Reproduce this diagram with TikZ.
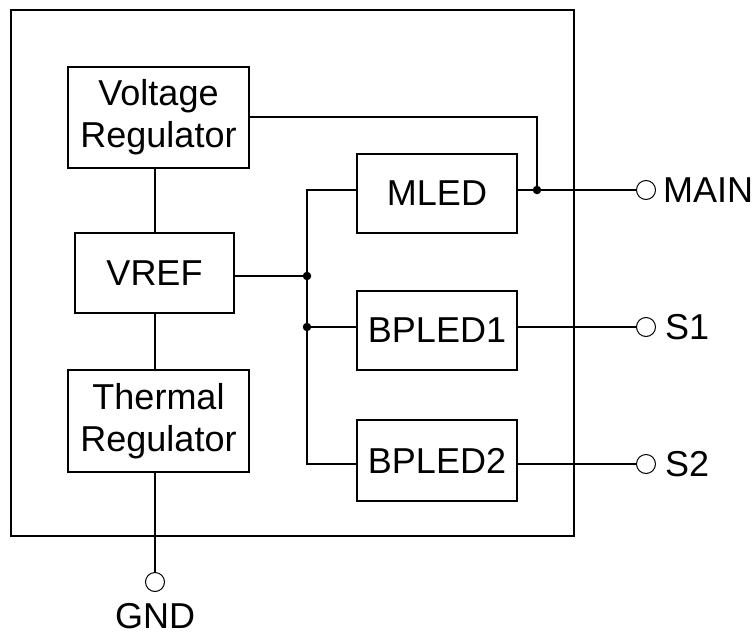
\documentclass[tikz,border=0pt]{standalone}
\usepackage{fontspec}
\setmainfont{Liberation Sans}
\begin{document}
\begin{tikzpicture}[x=1pt,y=-1pt,
  blk/.style={draw,line width=1.5pt,inner sep=0pt,align=center,font=\fontsize{36}{42}\selectfont},
  wire/.style={line width=1.3pt},
  jdot/.style={circle,fill,inner sep=0pt,minimum size=8.5pt},
  term/.style={circle,draw,line width=1pt,inner sep=0pt,minimum size=19pt,fill=white},
  lbl/.style={inner sep=0pt,font=\fontsize{36}{42}\selectfont}]
\useasboundingbox (0,0) rectangle (756,635);
\node[draw,line width=1.5pt,minimum width=563,minimum height=526,inner sep=0pt] (chip) at (292.5,273) {};
% blocks
\node[blk,minimum width=181,minimum height=101] (VR) at (158.5,117.5) {Voltage\\Regulator};
\node[blk,minimum width=159,minimum height=80] (VREF) at (154.5,273) {VREF};
\node[blk,minimum width=181,minimum height=102] (TR) at (158.5,421) {Thermal\\Regulator};
\node[blk,minimum width=160,minimum height=79] (MLED) at (437,193.5) {MLED};
\node[blk,minimum width=160,minimum height=79] (BP1) at (437,330.5) {BPLED1};
\node[blk,minimum width=160,minimum height=81] (BP2) at (437,460.5) {BPLED2};
% helper coordinates
\coordinate (cv) at (155,0);
\coordinate (b0) at (307,190);
\coordinate (b3) at (307,464);
\coordinate (vr) at (537,117);
% junction dots
\node[jdot] (d1) at (307,276) {};
\node[jdot] (d2) at (307,327) {};
\node[jdot] (d3) at (537,190) {};
% terminals
\node[term] (tM) at (646,190) {};
\node[term] (tS1) at (646,327) {};
\node[term] (tS2) at (646,464) {};
\node[term] (tG) at (155,582) {};
\node[lbl,anchor=west] (lM) at (663,190) {MAIN};
\node[lbl,anchor=west] (lS1) at (665,327) {S1};
\node[lbl,anchor=west] (lS2) at (665,464) {S2};
\node[lbl] (lG) at (155,616) {GND};
% wires
\draw[wire] (VR.south -| cv) -- (VREF.north -| cv);
\draw[wire] (VREF.south -| cv) -- (TR.north -| cv);
\draw[wire] (TR.south -| cv) -- (tG);
\draw[wire] (VREF.east |- d1) -- (d1.center);
\draw[wire] (MLED.west |- b0) -- (b0) -- (b3) -- (BP2.west |- b3);
\draw[wire] (d2.center) -- (BP1.west |- d2);
\draw[wire] (VR.east |- vr) -- (vr) -- (d3.center);
\draw[wire] (MLED.east |- d3) -- (tM);
\draw[wire] (BP1.east |- d2) -- (tS1);
\draw[wire] (BP2.east |- b3) -- (tS2);
\end{tikzpicture}
\end{document}
